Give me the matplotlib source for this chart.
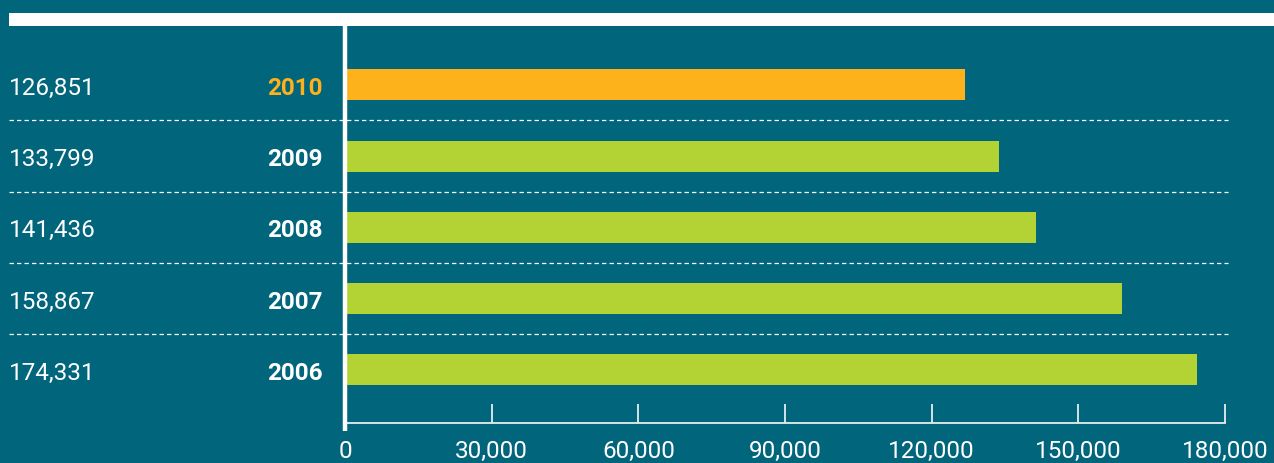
import matplotlib
matplotlib.use("Agg")
import matplotlib.pyplot as plt
from matplotlib.patches import Rectangle
from matplotlib.transforms import blended_transform_factory

years = ["2010", "2009", "2008", "2007", "2006"]
values = [126851, 133799, 141436, 158867, 174331]
xticks = [0, 30000, 60000, 90000, 120000, 150000, 180000]
xticklabels = ["0", "30,000", "60,000", "90,000", "120,000", "150,000", "180,000"]

BG = "#01657b"
ORANGE = "#fdb11b"
GREEN = "#b3d334"
W, H = 1274, 464
FS = 17.5

plt.rcParams['font.family'] = ['Roboto', 'DejaVu Sans']

fig = plt.figure(figsize=(W / 100, H / 100), dpi=100, facecolor=BG)

# axes: x from 345px to 1225px, y from 27px to 424px (top-origin)
ax = fig.add_axes([345 / W, (H - 424) / H, (1225 - 345) / W, (424 - 27) / H])
ax.set_facecolor(BG)
ax.set_xlim(0, 180000)
ax.set_ylim(4.745, -0.825)

colors = [ORANGE] + [GREEN] * (len(years) - 1)
ypos = list(range(len(years)))
ax.barh(ypos, values, height=0.435, color=colors, zorder=3)

for s in ["top", "right", "left"]:
    ax.spines[s].set_visible(False)
ax.spines["bottom"].set_color("#e6eef0")
ax.spines["bottom"].set_linewidth(1.3)

ax.set_yticks([])
ax.set_xticks(xticks)
ax.set_xticklabels(xticklabels)
ax.tick_params(axis="x", direction="in", length=14, width=1.3, color="#e6eef0",
               labelcolor="white", labelsize=FS, pad=11.5)

# thick white vertical line at x=0
ax.plot([0, 0], [-0.02, 1], transform=blended_transform_factory(ax.transData, ax.transAxes),
        color="white", lw=3.2, clip_on=False, zorder=5, solid_capstyle="butt")

# dashed separators spanning the figure width
bt = blended_transform_factory(fig.transFigure, ax.transData)
for i in range(len(years) - 1):
    yv = i + 0.5
    ax.plot([9 / W, 1228 / W], [yv, yv], transform=bt, color="white", lw=0.9,
            dashes=(3.5, 2.5), clip_on=False, zorder=2)

# left labels
lt = blended_transform_factory(fig.transFigure, ax.transData)
for i, (yr, v) in enumerate(zip(years, values)):
    ax.text(9 / W, i, f"{v:,}", transform=lt, color="white", fontsize=FS,
            ha="left", va="center_baseline")
    ax.text(323 / W, i, yr, transform=lt, color=ORANGE if i == 0 else "white",
            fontsize=FS, fontweight="bold", ha="right", va="center_baseline")

# top white band
fig.patches.append(Rectangle((9 / W, (H - 27) / H), (W - 9) / W, 13 / H,
                             transform=fig.transFigure, facecolor="white",
                             edgecolor="none", zorder=10))

fig.savefig("out.png", dpi=100, facecolor=BG)
